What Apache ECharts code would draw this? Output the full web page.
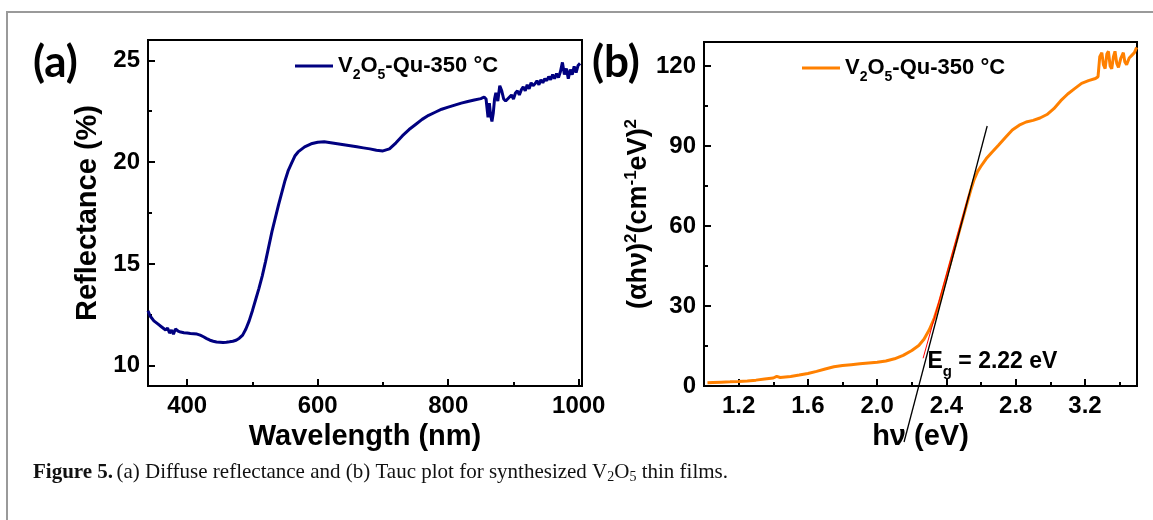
<!DOCTYPE html>
<html>
<head>
<meta charset="utf-8">
<script src="https://cdn.jsdelivr.net/npm/echarts@6/dist/echarts.min.js"></script>
<style>
  html, body { margin: 0; padding: 0; background: #fff; }
  #main { width: 1153px; height: 520px; }
</style>
</head>
<body>
<div id="main"></div>
<script>
// panel (a): diffuse reflectance
const wavelength = [340,343,346,349,352,355,358,361,364,367,370,373,376,379,382,386,390,395,400,405,410,415,420,425,430,435,440,445,450,455,460,465,470,475,480,485,490,495,500,505,510,515,520,525,530,535,540,545,550,555,560,565,570,580,590,600,610,620,630,640,650,660,670,680,690,700,710,720,730,740,750,760,770,780,790,800,810,820,830,840,850,855,858,861,863,865,867,869,871,873,876,879,882,885,888,891,894,897,900,903,906,909,912,915,918,921,924,927,930,933,936,939,942,945,948,951,954,957,960,963,966,969,972,975,978,981,984,987,990,993,996,999,1002];
const reflectance = [12.7,12.45,12.5,12.2,12.25,12.05,12.1,11.9,11.95,11.75,11.85,11.6,11.75,11.55,11.8,11.7,11.65,11.62,11.6,11.58,11.57,11.55,11.5,11.42,11.33,11.25,11.2,11.16,11.15,11.14,11.15,11.17,11.2,11.25,11.35,11.5,11.8,12.2,12.7,13.25,13.8,14.4,15.1,15.85,16.6,17.25,17.9,18.5,19.1,19.6,19.95,20.3,20.5,20.75,20.9,20.98,21.0,20.95,20.9,20.85,20.8,20.75,20.7,20.65,20.58,20.55,20.65,20.95,21.3,21.6,21.85,22.1,22.3,22.45,22.6,22.7,22.8,22.9,22.98,23.05,23.12,23.2,23.1,22.2,22.9,22.3,22.0,22.4,23.1,23.4,23.0,23.75,23.5,23.1,23.0,22.95,23.2,23.3,23.1,23.4,23.5,23.3,23.55,23.7,23.5,23.8,23.6,23.9,23.75,23.85,24.0,23.8,24.05,23.9,24.1,24.0,24.2,24.05,24.3,24.1,24.35,24.15,24.45,24.9,24.3,24.6,24.1,24.55,24.3,24.7,24.4,24.75,24.85];
const waveTicks = [400, 600, 800, 1000];
const waveMinor = [500, 700, 900];
const reflTicks = [10, 15, 20, 25];
const reflMinor = [12.5, 17.5, 22.5];

// panel (b): Tauc plot
const photonEnergy = [1.02,1.05,1.1,1.15,1.2,1.25,1.3,1.35,1.4,1.42,1.44,1.5,1.55,1.6,1.65,1.7,1.75,1.8,1.85,1.9,1.95,2.0,2.05,2.1,2.15,2.2,2.24,2.27,2.3,2.33,2.36,2.39,2.42,2.45,2.48,2.51,2.54,2.56,2.58,2.6,2.63,2.66,2.7,2.74,2.78,2.82,2.86,2.9,2.94,2.98,3.02,3.06,3.1,3.14,3.18,3.22,3.26,3.275,3.285,3.297,3.306,3.316,3.326,3.335,3.345,3.354,3.364,3.373,3.383,3.393,3.407,3.421,3.43,3.44,3.455,3.47,3.485,3.498];
const taucValue = [1.2,1.3,1.45,1.55,1.7,1.9,2.2,2.6,3.0,3.6,3.2,3.6,4.1,4.7,5.5,6.4,7.2,7.7,8.0,8.3,8.6,8.9,9.4,10.2,11.5,13.3,15.2,17.5,21.0,25.5,31.5,38.5,45.5,52.5,59.5,66.5,73.5,77.5,80.5,82.5,85.3,87.5,90.3,93.2,96.0,97.8,99.0,99.6,100.5,101.8,104.0,107.0,109.5,111.5,113.5,114.5,115.3,116,123.5,125,120.5,119,124.5,125.5,120,119,123.5,125.5,121,119.5,123,125,121.5,120.5,123,124,125,127];
const energyTicks = [1.2, 1.6, 2.0, 2.4, 2.8, 3.2];
const energyMinor = [1.4, 1.8, 2.2, 2.6, 3.0, 3.4];
const taucTicks = [0, 30, 60, 90, 120];
const taucMinor = [15, 45, 75, 105];
const tangentEnergy = [2.155, 2.635];
const tangentValue = [-21, 97.5];
const fitEnergy = [2.265, 2.53];
const fitValue = [10.4, 72];
const bandGapLabel = [2.29, 9.2];

const zip = (xs, ys) => xs.map((x, i) => [x, ys[i]]);

const FONT = 'Liberation Sans';
const tickLabel = { fontSize: 24, fontWeight: 'bold', color: '#000', fontFamily: FONT };
const nameStyle = { fontSize: 29, fontWeight: 'bold', color: '#000', fontFamily: FONT };
const lineBlack = { color: '#000', width: 2 };

function mainAxis(gridIndex, position, min, max, ticks, extra) {
  return Object.assign({
    type: 'value', gridIndex, position, min, max,
    axisLine: { show: true, onZero: false, lineStyle: lineBlack },
    axisTick: { show: true, inside: true, length: 7, customValues: ticks, lineStyle: lineBlack },
    axisLabel: Object.assign({ customValues: ticks, margin: 8, formatter: v => String(v) }, tickLabel),
    splitLine: { show: false },
    nameLocation: 'middle',
    nameTextStyle: nameStyle
  }, extra);
}
function minorAxis(gridIndex, position, min, max, ticks) {
  return {
    type: 'value', gridIndex, position, min, max,
    axisLine: { show: false, onZero: false },
    axisTick: { show: true, inside: true, length: 4, customValues: ticks, lineStyle: lineBlack },
    axisLabel: { show: false },
    splitLine: { show: false }
  };
}

const legendRich = {
  t: { fontSize: 22, fontWeight: 'bold', color: '#000', fontFamily: FONT },
  s: { fontSize: 14, fontWeight: 'bold', color: '#000', fontFamily: FONT, padding: [18, 0, 0, 0] }
};
const legendText = '{t|V}{s|2}{t|O}{s|5}{t|-Qu-350 °C}';

var myChart = echarts.init(document.getElementById('main'));
const option = {
  backgroundColor: '#fff',
  animation: false,
  grid: [
    { left: 148, top: 40, width: 434, height: 346, show: true, borderColor: '#000', borderWidth: 2, containLabel: false },
    { left: 704, top: 42, width: 433, height: 344, show: true, borderColor: '#000', borderWidth: 2, containLabel: false }
  ],
  xAxis: [
    mainAxis(0, 'bottom', 340, 1005, waveTicks, { name: 'Wavelength (nm)', nameGap: 34 }),
    minorAxis(0, 'bottom', 340, 1005, waveMinor),
    mainAxis(1, 'bottom', 1.0, 3.5, energyTicks, { name: 'hν (eV)', nameGap: 34,
      axisLabel: Object.assign({ customValues: energyTicks, margin: 8, formatter: v => v.toFixed(1) }, tickLabel) }),
    minorAxis(1, 'bottom', 1.0, 3.5, energyMinor)
  ],
  yAxis: [
    mainAxis(0, 'left', 9, 26, reflTicks, { name: 'Reflectance (%)', nameGap: 46 }),
    minorAxis(0, 'left', 9, 26, reflMinor),
    mainAxis(1, 'left', 0, 129, taucTicks, {
      name: '{p|(αhν)}{sp|2}{p|(cm}{sp|-1}{p|eV)}{sp|2}', nameGap: 46,
      nameTextStyle: Object.assign({}, nameStyle, { rich: {
        p: { fontSize: 27, fontWeight: 'bold', color: '#000', fontFamily: FONT },
        sp: { fontSize: 17, fontWeight: 'bold', color: '#000', fontFamily: FONT, padding: [0, 0, 14, 0] }
      } })
    }),
    minorAxis(1, 'left', 0, 129, taucMinor)
  ],
  legend: [
    { data: ['a'], left: 295, top: 55, padding: 0, icon: 'rect', itemWidth: 38, itemHeight: 3, formatter: () => legendText,
      textStyle: { rich: legendRich }, selectedMode: false },
    { data: ['b'], left: 802, top: 57, padding: 0, icon: 'rect', itemWidth: 38, itemHeight: 3, formatter: () => legendText,
      textStyle: { rich: legendRich }, selectedMode: false }
  ],
  series: [
    { name: 'a', type: 'line', xAxisIndex: 0, yAxisIndex: 0, data: zip(wavelength, reflectance),
      symbol: 'none', color: '#000080', lineStyle: { color: '#000080', width: 3 } },
    { name: 'b', type: 'line', xAxisIndex: 2, yAxisIndex: 2, data: zip(photonEnergy, taucValue),
      symbol: 'none', color: '#ff8000', lineStyle: { color: '#ff8000', width: 3 } },
    { name: 'fit', type: 'line', xAxisIndex: 2, yAxisIndex: 2, data: zip(fitEnergy, fitValue),
      symbol: 'none', lineStyle: { color: '#ff0000', width: 1 }, z: 3 },
    { name: 'tangent', type: 'line', xAxisIndex: 2, yAxisIndex: 2, data: zip(tangentEnergy, tangentValue),
      symbol: 'none', clip: false, lineStyle: { color: '#000', width: 1.3 }, z: 4,
      markPoint: {
        symbol: 'circle', symbolSize: 0,
        data: [{ coord: bandGapLabel }],
        label: {
          show: true, position: 'right', distance: 0,
          formatter: '{e|E}{g|g}{e| = 2.22 eV}',
          rich: {
            e: { fontSize: 23, fontWeight: 'bold', color: '#000', fontFamily: FONT },
            g: { fontSize: 15, fontWeight: 'bold', color: '#000', fontFamily: FONT, padding: [20, 0, 0, 0] }
          }
        }
      } }
  ],
  graphic: [
    { type: 'polyline', silent: true, shape: { points: [[7, 520], [7, 12], [1153, 12]] },
      style: { stroke: '#9a9a9a', lineWidth: 2, fill: null } },
    { type: 'text', left: 33, top: 41, style: { text: '(a)', font: 'bold 44px Lato', fill: '#000' } },
    { type: 'text', left: 592, top: 41, style: { text: '(b)', font: 'bold 44px Lato', fill: '#000' } },
    { type: 'text', left: 33, top: 462, style: {
      text: '{b|Figure 5.} {n|(a) Diffuse reflectance and (b) Tauc plot for synthesized V}{s|2}{n|O}{s|5}{n| thin films.}',
      rich: {
        b: { fontSize: 21, fontWeight: 'bold', fontFamily: 'Liberation Serif', fill: '#111' },
        n: { fontSize: 21, fontFamily: 'Liberation Serif', fill: '#111' },
        s: { fontSize: 14, fontFamily: 'Liberation Serif', fill: '#111', padding: [10, 0, 0, 0] }
      } } }
  ]
};
myChart.setOption(option);
</script>
</body>
</html>
